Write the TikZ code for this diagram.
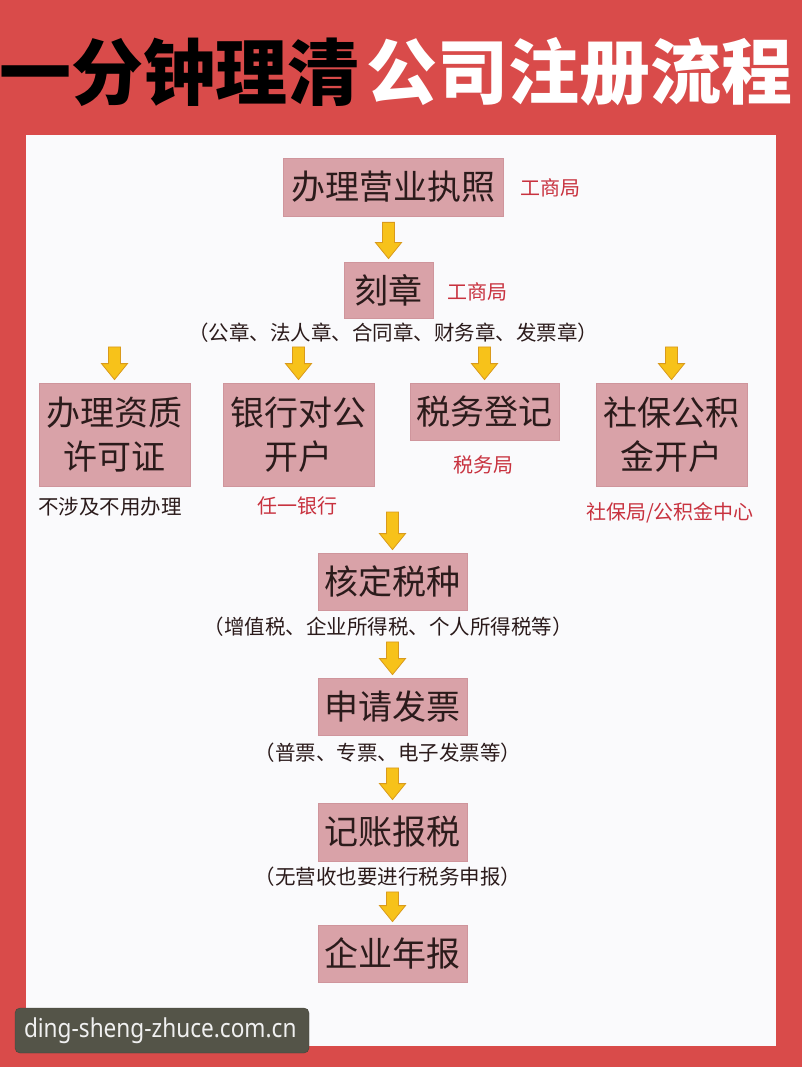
\documentclass[tikz,border=0pt]{standalone}
\usepackage{fontspec}
\setmainfont{Noto Sans}
\newfontfamily\cjk{Noto Sans CJK SC}
\newfontfamily\wmfont{Noto Sans}[FakeStretch=0.87]
\usetikzlibrary{calc}
\definecolor{bgred}{HTML}{D94B4A}
\definecolor{panel}{HTML}{FAFAFC}
\definecolor{boxpink}{HTML}{D9A2A8}
\definecolor{boxline}{HTML}{CF959C}
\definecolor{labred}{HTML}{C8323F}
\definecolor{boxtext}{HTML}{2B1B1B}
\definecolor{arrfill}{HTML}{F7C21A}
\definecolor{arrline}{HTML}{D99A1C}
\definecolor{wmbox}{HTML}{545448}
\tikzset{
  stepbox/.style={fill=boxpink, draw=boxline, line width=0.8pt, inner sep=0pt,
    text=boxtext, align=center, font=\cjk\fontsize{34}{44}\selectfont},
  redlab/.style={inner sep=0pt, text=labred, font=\cjk\fontsize{20}{24}\selectfont},
  blklab/.style={inner sep=0pt, text=boxtext, font=\cjk\fontsize{20.5}{24}\selectfont},
  yarrow/.style={fill=arrfill, draw=arrline, line width=0.8pt, line join=miter}
}
\newcommand\bigarrow[2]{%
  \path (#1) coordinate (as);
  \path ($(#2.north)+(0,-3)$) coordinate (at);
  \path (at |- as) coordinate (as);
  \filldraw[yarrow] ($(as)+(-6,0)$) -- ($(at)+(-6,-16)$) -- ($(at)+(-13,-16)$) -- (at)
    -- ($(at)+(13,-16)$) -- ($(at)+(6,-16)$) -- ($(as)+(6,0)$) -- cycle;}
\begin{document}
\begin{tikzpicture}[x=1pt,y=-1pt]
\useasboundingbox (0,0) rectangle (802,1067);
\fill[bgred] (0,0) rectangle (802,1067);
\fill[panel] (26,135) rectangle (776,1046);
% title
\node[anchor=west, inner sep=0pt, font=\cjk\bfseries\fontsize{72}{72}\selectfont, text=black] (t1) at (-1,72) {一分钟理清};
\node[anchor=west, inner sep=0pt, font=\cjk\bfseries\fontsize{71}{71}\selectfont, text=white] (t2) at (366,72) {公司注册流程};
% boxes
\node[stepbox, minimum width=220, minimum height=58] (b1) at (393,187) {办理营业执照};
\node[redlab] (l1) at (550,188) {工商局};
\node[stepbox, minimum width=89, minimum height=56] (b2) at (388.5,290) {刻章};
\node[redlab] (l2) at (477,292) {工商局};
\node[blklab] (p2) at (393,333) {（公章、法人章、合同章、财务章、发票章）};
\node[stepbox, minimum width=151, minimum height=103] (b3a) at (114.5,434.5) {办理资质\\许可证};
\node[stepbox, minimum width=151, minimum height=103] (b3b) at (298.5,434.5) {银行对公\\开户};
\node[stepbox, minimum width=149, minimum height=57] (b3c) at (484.5,411.5) {税务登记};
\node[stepbox, minimum width=151, minimum height=103] (b3d) at (671.5,434.5) {社保公积\\金开户};
\node[blklab] (l3a) at (110,507) {不涉及不用办理};
\node[redlab] (l3b) at (297,506) {任一银行};
\node[redlab] (l3c) at (483,465) {税务局};
\node[redlab] (l3d) at (670,513) {社保局/公积金中心};
\coordinate (rowend) at (388,512);
\node[stepbox, minimum width=149, minimum height=57] (b4) at (392.5,581.5) {核定税种};
\node[blklab] (p4) at (388,627) {（增值税、企业所得税、个人所得税等）};
\node[stepbox, minimum width=149, minimum height=57] (b5) at (392.5,706.5) {申请发票};
\node[blklab] (p5) at (388,753) {（普票、专票、电子发票等）};
\node[stepbox, minimum width=149, minimum height=58] (b6) at (392.5,832) {记账报税};
\node[blklab] (p6) at (388,877) {（无营收也要进行税务申报）};
\node[stepbox, minimum width=149, minimum height=57] (b7) at (392.5,953.5) {企业年报};
% arrows
\bigarrow{$(b1.south)+(0,6)$}{b2}
\bigarrow{$(p2.south)+(0,4)$}{b3a}
\bigarrow{$(p2.south)+(0,4)$}{b3b}
\bigarrow{$(p2.south)+(0,4)$}{b3c}
\bigarrow{$(p2.south)+(0,4)$}{b3d}
\bigarrow{rowend}{b4}
\bigarrow{$(p4.south)+(0,5)$}{b5}
\bigarrow{$(p5.south)+(0,5)$}{b6}
\bigarrow{$(p6.south)+(0,5)$}{b7}
% watermark
\node[fill=wmbox, draw=wmbox!80!black, rounded corners=5pt, minimum width=294, minimum height=45, inner sep=0pt] (wm) at (162,1030.5) {};
\node[inner sep=0pt, text=white!94!black, font=\wmfont\fontsize{26}{28}\selectfont, anchor=west] (wmt) at ($(wm.west)+(9,0)$) {ding-sheng-zhuce.com.cn};
\end{tikzpicture}
\end{document}
